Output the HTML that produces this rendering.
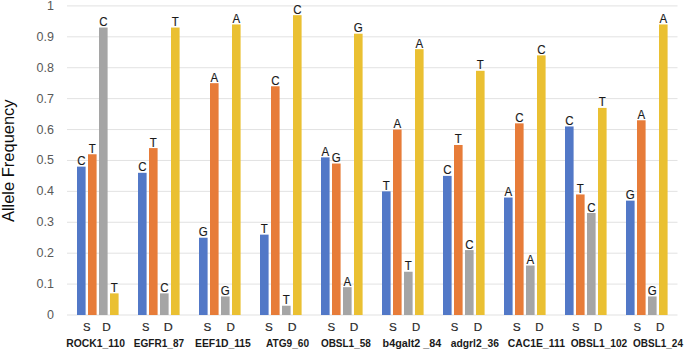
<!DOCTYPE html>
<html><head><meta charset="utf-8"><style>
html,body{margin:0;padding:0;background:#fff;}
body{width:685px;height:350px;overflow:hidden;}
svg{display:block;}
</style></head><body>
<svg width="685" height="350" viewBox="0 0 685 350">
<rect width="685" height="350" fill="#fff"/>
<rect x="67" y="283.59" width="610.5" height="1" fill="#E2E2E2"/>
<rect x="67" y="252.68" width="610.5" height="1" fill="#E2E2E2"/>
<rect x="67" y="221.77" width="610.5" height="1" fill="#E2E2E2"/>
<rect x="67" y="190.86" width="610.5" height="1" fill="#E2E2E2"/>
<rect x="67" y="159.95" width="610.5" height="1" fill="#E2E2E2"/>
<rect x="67" y="129.04" width="610.5" height="1" fill="#E2E2E2"/>
<rect x="67" y="98.13" width="610.5" height="1" fill="#E2E2E2"/>
<rect x="67" y="67.22" width="610.5" height="1" fill="#E2E2E2"/>
<rect x="67" y="36.31" width="610.5" height="1" fill="#E2E2E2"/>
<rect x="67" y="5.40" width="610.5" height="1" fill="#E2E2E2"/>
<rect x="67" y="314.50" width="610.5" height="1" fill="#E2E2E2"/>
<g font-family="Liberation Sans, sans-serif" font-size="12.5" fill="#595959" text-anchor="end">
<text x="54" y="319.00">0</text>
<text x="54" y="288.09">0.1</text>
<text x="54" y="257.18">0.2</text>
<text x="54" y="226.27">0.3</text>
<text x="54" y="195.36">0.4</text>
<text x="54" y="164.45">0.5</text>
<text x="54" y="133.54">0.6</text>
<text x="54" y="102.63">0.7</text>
<text x="54" y="71.72">0.8</text>
<text x="54" y="40.81">0.9</text>
<text x="54" y="9.90">1</text>
</g>
<rect x="77.00" y="166.63" width="8.6" height="148.37" fill="#5278C7"/>
<rect x="88.00" y="154.27" width="8.6" height="160.73" fill="#E77C39"/>
<rect x="99.00" y="27.54" width="8.6" height="287.46" fill="#A5A5A5"/>
<rect x="110.00" y="293.36" width="8.6" height="21.64" fill="#EAC032"/>
<rect x="138.00" y="172.81" width="8.6" height="142.19" fill="#5278C7"/>
<rect x="149.00" y="148.09" width="8.6" height="166.91" fill="#E77C39"/>
<rect x="160.00" y="293.36" width="8.6" height="21.64" fill="#A5A5A5"/>
<rect x="171.00" y="27.54" width="8.6" height="287.46" fill="#EAC032"/>
<rect x="199.00" y="237.72" width="8.6" height="77.28" fill="#5278C7"/>
<rect x="210.00" y="83.17" width="8.6" height="231.83" fill="#E77C39"/>
<rect x="221.00" y="296.45" width="8.6" height="18.55" fill="#A5A5A5"/>
<rect x="232.00" y="24.45" width="8.6" height="290.55" fill="#EAC032"/>
<rect x="260.00" y="234.63" width="8.6" height="80.37" fill="#5278C7"/>
<rect x="271.00" y="86.27" width="8.6" height="228.73" fill="#E77C39"/>
<rect x="282.00" y="305.73" width="8.6" height="9.27" fill="#A5A5A5"/>
<rect x="293.00" y="15.17" width="8.6" height="299.83" fill="#EAC032"/>
<rect x="321.00" y="157.36" width="8.6" height="157.64" fill="#5278C7"/>
<rect x="332.00" y="163.54" width="8.6" height="151.46" fill="#E77C39"/>
<rect x="343.00" y="287.18" width="8.6" height="27.82" fill="#A5A5A5"/>
<rect x="354.00" y="33.72" width="8.6" height="281.28" fill="#EAC032"/>
<rect x="382.00" y="191.36" width="8.6" height="123.64" fill="#5278C7"/>
<rect x="393.00" y="129.54" width="8.6" height="185.46" fill="#E77C39"/>
<rect x="404.00" y="271.73" width="8.6" height="43.27" fill="#A5A5A5"/>
<rect x="415.00" y="49.17" width="8.6" height="265.83" fill="#EAC032"/>
<rect x="443.00" y="175.90" width="8.6" height="139.10" fill="#5278C7"/>
<rect x="454.00" y="144.99" width="8.6" height="170.01" fill="#E77C39"/>
<rect x="465.00" y="250.09" width="8.6" height="64.91" fill="#A5A5A5"/>
<rect x="476.00" y="70.81" width="8.6" height="244.19" fill="#EAC032"/>
<rect x="504.00" y="197.54" width="8.6" height="117.46" fill="#5278C7"/>
<rect x="515.00" y="123.36" width="8.6" height="191.64" fill="#E77C39"/>
<rect x="526.00" y="265.54" width="8.6" height="49.46" fill="#A5A5A5"/>
<rect x="537.00" y="55.36" width="8.6" height="259.64" fill="#EAC032"/>
<rect x="565.00" y="126.45" width="8.6" height="188.55" fill="#5278C7"/>
<rect x="576.00" y="194.45" width="8.6" height="120.55" fill="#E77C39"/>
<rect x="587.00" y="213.00" width="8.6" height="102.00" fill="#A5A5A5"/>
<rect x="598.00" y="107.90" width="8.6" height="207.10" fill="#EAC032"/>
<rect x="626.00" y="200.63" width="8.6" height="114.37" fill="#5278C7"/>
<rect x="637.00" y="120.27" width="8.6" height="194.73" fill="#E77C39"/>
<rect x="648.00" y="296.45" width="8.6" height="18.55" fill="#A5A5A5"/>
<rect x="659.00" y="24.45" width="8.6" height="290.55" fill="#EAC032"/>
<g font-family="Liberation Sans, sans-serif" font-size="12.5" fill="#1a1a1a" stroke="#1a1a1a" stroke-width="0.15" text-anchor="middle">
<text transform="translate(81.30,165.13) scale(0.92,1)">C</text>
<text transform="translate(92.30,152.77) scale(0.92,1)">T</text>
<text transform="translate(103.30,26.04) scale(0.92,1)">C</text>
<text transform="translate(114.30,291.86) scale(0.92,1)">T</text>
<text transform="translate(142.30,171.31) scale(0.92,1)">C</text>
<text transform="translate(153.30,146.59) scale(0.92,1)">T</text>
<text transform="translate(164.30,291.86) scale(0.92,1)">C</text>
<text transform="translate(175.30,26.04) scale(0.92,1)">T</text>
<text transform="translate(203.30,236.22) scale(0.92,1)">G</text>
<text transform="translate(214.30,81.67) scale(0.92,1)">A</text>
<text transform="translate(225.30,294.95) scale(0.92,1)">G</text>
<text transform="translate(236.30,22.95) scale(0.92,1)">A</text>
<text transform="translate(264.30,233.13) scale(0.92,1)">T</text>
<text transform="translate(275.30,84.77) scale(0.92,1)">C</text>
<text transform="translate(286.30,304.23) scale(0.92,1)">T</text>
<text transform="translate(297.30,13.67) scale(0.92,1)">C</text>
<text transform="translate(325.30,155.86) scale(0.92,1)">A</text>
<text transform="translate(336.30,162.04) scale(0.92,1)">G</text>
<text transform="translate(347.30,285.68) scale(0.92,1)">A</text>
<text transform="translate(358.30,32.22) scale(0.92,1)">G</text>
<text transform="translate(386.30,189.86) scale(0.92,1)">T</text>
<text transform="translate(397.30,128.04) scale(0.92,1)">A</text>
<text transform="translate(408.30,270.23) scale(0.92,1)">T</text>
<text transform="translate(419.30,47.67) scale(0.92,1)">A</text>
<text transform="translate(447.30,174.40) scale(0.92,1)">C</text>
<text transform="translate(458.30,143.49) scale(0.92,1)">T</text>
<text transform="translate(469.30,248.59) scale(0.92,1)">C</text>
<text transform="translate(480.30,69.31) scale(0.92,1)">T</text>
<text transform="translate(508.30,196.04) scale(0.92,1)">A</text>
<text transform="translate(519.30,121.86) scale(0.92,1)">C</text>
<text transform="translate(530.30,264.04) scale(0.92,1)">A</text>
<text transform="translate(541.30,53.86) scale(0.92,1)">C</text>
<text transform="translate(569.30,124.95) scale(0.92,1)">C</text>
<text transform="translate(580.30,192.95) scale(0.92,1)">T</text>
<text transform="translate(591.30,211.50) scale(0.92,1)">C</text>
<text transform="translate(602.30,106.40) scale(0.92,1)">T</text>
<text transform="translate(630.30,199.13) scale(0.92,1)">G</text>
<text transform="translate(641.30,118.77) scale(0.92,1)">A</text>
<text transform="translate(652.30,294.95) scale(0.92,1)">G</text>
<text transform="translate(663.30,22.95) scale(0.92,1)">A</text>
</g>
<g font-family="Liberation Sans, sans-serif" stroke-width="0.15">
<text transform="translate(83.02,331.3) scale(0.983,1)" font-size="11.5" fill="#262626" stroke="#262626">S</text>
<text transform="translate(102.37,331.3) scale(1.029,1)" font-size="11.5" fill="#262626" stroke="#262626">D</text>
<text transform="translate(66.26,346.9) scale(0.941,1)" font-size="11" font-weight="bold" fill="#1a1a1a">ROCK1_110</text>
<text transform="translate(141.93,331.3) scale(0.967,1)" font-size="11.5" fill="#262626" stroke="#262626">S</text>
<text transform="translate(163.81,331.3) scale(1.086,1)" font-size="11.5" fill="#262626" stroke="#262626">D</text>
<text transform="translate(133.79,346.9) scale(0.915,1)" font-size="11" font-weight="bold" fill="#1a1a1a">EGFR1_87</text>
<text transform="translate(203.38,331.3) scale(1.017,1)" font-size="11.5" fill="#262626" stroke="#262626">S</text>
<text transform="translate(226.39,331.3) scale(1.014,1)" font-size="11.5" fill="#262626" stroke="#262626">D</text>
<text transform="translate(194.96,346.9) scale(0.943,1)" font-size="11" font-weight="bold" fill="#1a1a1a">EEF1D_115</text>
<text transform="translate(264.88,331.3) scale(1.017,1)" font-size="11.5" fill="#262626" stroke="#262626">S</text>
<text transform="translate(287.84,331.3) scale(1.057,1)" font-size="11.5" fill="#262626" stroke="#262626">D</text>
<text transform="translate(265.90,346.9) scale(0.922,1)" font-size="11" font-weight="bold" fill="#1a1a1a">ATG9_60</text>
<text transform="translate(327.40,331.3) scale(1.000,1)" font-size="11.5" fill="#262626" stroke="#262626">S</text>
<text transform="translate(349.87,331.3) scale(1.029,1)" font-size="11.5" fill="#262626" stroke="#262626">D</text>
<text transform="translate(320.89,346.9) scale(0.907,1)" font-size="11" font-weight="bold" fill="#1a1a1a">OBSL1_58</text>
<text transform="translate(388.98,331.3) scale(1.017,1)" font-size="11.5" fill="#262626" stroke="#262626">S</text>
<text transform="translate(411.91,331.3) scale(0.986,1)" font-size="11.5" fill="#262626" stroke="#262626">D</text>
<text transform="translate(382.62,346.9) scale(0.981,1)" font-size="11" font-weight="bold" fill="#1a1a1a">b4galt2&#160;_84</text>
<text transform="translate(450.72,331.3) scale(0.983,1)" font-size="11.5" fill="#262626" stroke="#262626">S</text>
<text transform="translate(473.69,331.3) scale(1.014,1)" font-size="11.5" fill="#262626" stroke="#262626">D</text>
<text transform="translate(450.70,346.9) scale(0.939,1)" font-size="11" font-weight="bold" fill="#1a1a1a">adgrl2_36</text>
<text transform="translate(512.87,331.3) scale(1.033,1)" font-size="11.5" fill="#262626" stroke="#262626">S</text>
<text transform="translate(535.30,331.3) scale(1.000,1)" font-size="11.5" fill="#262626" stroke="#262626">D</text>
<text transform="translate(507.86,346.9) scale(0.944,1)" font-size="11" font-weight="bold" fill="#1a1a1a">CAC1E_111</text>
<text transform="translate(571.92,331.3) scale(0.983,1)" font-size="11.5" fill="#262626" stroke="#262626">S</text>
<text transform="translate(594.11,331.3) scale(0.986,1)" font-size="11.5" fill="#262626" stroke="#262626">D</text>
<text transform="translate(570.67,346.9) scale(0.927,1)" font-size="11" font-weight="bold" fill="#1a1a1a">OBSL1_102</text>
<text transform="translate(633.42,331.3) scale(0.983,1)" font-size="11.5" fill="#262626" stroke="#262626">S</text>
<text transform="translate(655.89,331.3) scale(1.014,1)" font-size="11.5" fill="#262626" stroke="#262626">D</text>
<text transform="translate(632.99,346.9) scale(0.909,1)" font-size="11" font-weight="bold" fill="#1a1a1a">OBSL1_24</text>
</g>
<text transform="translate(13.9,222.10) rotate(-90) scale(1.030,1)" font-family="Liberation Sans, sans-serif" font-size="16" fill="#0d0d0d">Allele Frequency</text>
</svg>
</body></html>
